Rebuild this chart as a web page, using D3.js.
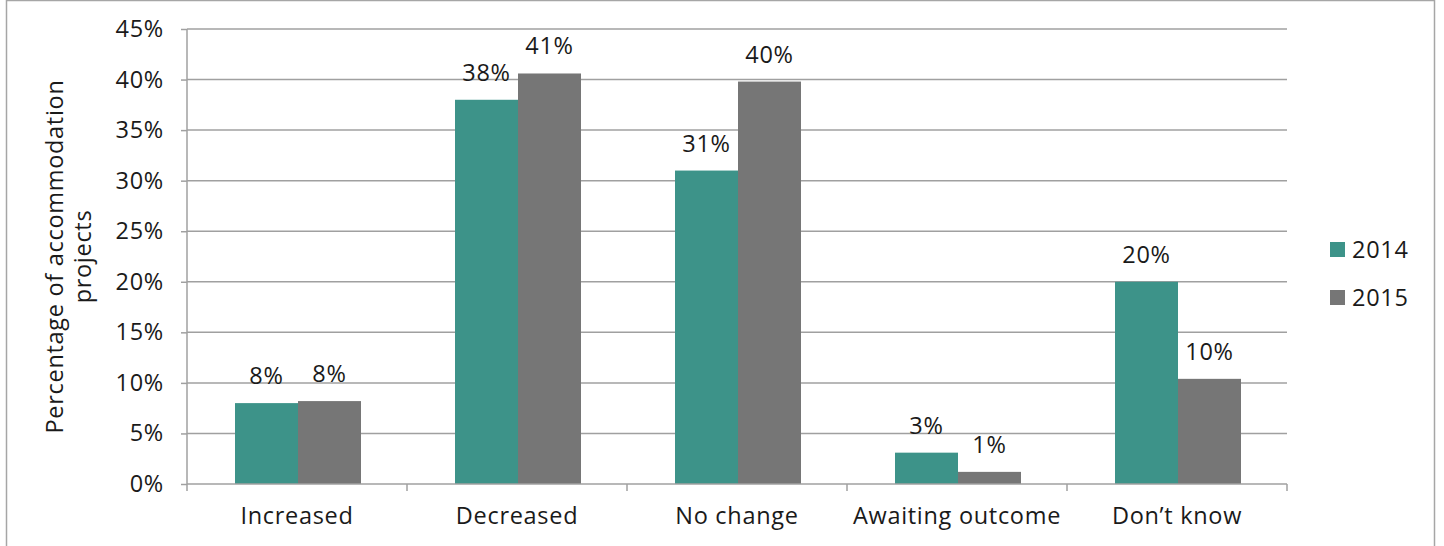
<!DOCTYPE html>
<html>
<head>
<meta charset="utf-8">
<script src="https://cdn.jsdelivr.net/npm/d3@7"></script>
<style>
  html, body { margin: 0; padding: 0; background: #fff; }
  svg { display: block; font-family: "Open Sans", Lato, sans-serif; }
  svg text { letter-spacing: 0.7px; }
</style>
</head>
<body>
<svg id="chart" width="1444" height="546"></svg>
<script>
// Outcome of accommodation projects, by survey year
const categories = ["Increased", "Decreased", "No change", "Awaiting outcome", "Don\u2019t know"];
const series = ["2014", "2015"];
const values2014 = [8.0, 38.0, 31.0, 3.1, 20.0];
const values2015 = [8.2, 40.6, 39.8, 1.2, 10.4];
const yTicks = [0, 5, 10, 15, 20, 25, 30, 35, 40, 45];
const colors = ["#3d9389", "#767676"];

const FONT = "'Open Sans', Lato, sans-serif";
const FS = 23.5;

const svg = d3.select("#chart");
const margin = { left: 187, right: 157, top: 29, bottom: 62 };
const W = 1444, H = 546;
const x0 = margin.left, x1 = W - margin.right;
const y0 = H - margin.bottom, y1 = margin.top;

// outer frame
svg.append("rect")
  .attr("x", 6.5).attr("y", 0.5)
  .attr("width", 1428).attr("height", 560)
  .attr("fill", "none").attr("stroke", "#a6a6a6").attr("stroke-width", 1.5);

const x = d3.scaleBand().domain(categories).range([x0, x1]).paddingInner(0).paddingOuter(0);
const xs = d3.scaleBand().domain(series).range([48, x.bandwidth() - 46]);
const y = d3.scaleLinear().domain([0, 45]).range([y0, y1]);

// gridlines
svg.append("g")
  .selectAll("line").data(yTicks.filter(d => d > 0)).join("line")
  .attr("x1", x0).attr("x2", x1)
  .attr("y1", d => y(d)).attr("y2", d => y(d))
  .attr("stroke", "#a0a0a0").attr("stroke-width", 1.5);

// bars
const groups = svg.append("g").selectAll("g").data(categories).join("g")
  .attr("transform", d => `translate(${x(d)},0)`);

const rows = categories.map((c, i) => [values2014[i], values2015[i]]);

groups.selectAll("rect")
  .data((d, i) => series.map((s, j) => ({ s, v: rows[i][j], j })))
  .join("rect")
  .attr("x", d => xs(d.s))
  .attr("width", xs.bandwidth())
  .attr("y", d => y(d.v))
  .attr("height", d => y(0) - y(d.v))
  .attr("fill", d => colors[d.j]);

groups.selectAll("text")
  .data((d, i) => series.map((s, j) => ({ s, v: rows[i][j], j })))
  .join("text")
  .attr("x", d => xs(d.s) + xs.bandwidth() / 2)
  .attr("y", d => y(d.v) - 19)
  .attr("text-anchor", "middle")
  .attr("font-size", FS)
  .attr("fill", "#1a1a1a")
  .text(d => Math.round(d.v) + "%");

// y axis
const yAxis = svg.append("g")
  .attr("transform", `translate(${x0},0)`)
  .call(d3.axisLeft(y).tickValues(yTicks).tickSize(6).tickPadding(17).tickFormat(d => d + "%"));
yAxis.selectAll("text").attr("font-size", FS).attr("fill", "#1a1a1a").attr("font-family", FONT);
yAxis.selectAll("line").attr("stroke", "#a0a0a0").attr("stroke-width", 1.5);
yAxis.select(".domain").attr("stroke", "#a0a0a0").attr("stroke-width", 1.5).attr("d", `M0,${y0}V${y1}`);

// x axis
const xAxis = svg.append("g")
  .attr("transform", `translate(0,${y0})`)
  .call(d3.axisBottom(x).tickSize(0).tickPadding(23));
xAxis.selectAll("text").attr("font-size", FS).attr("fill", "#1a1a1a").attr("font-family", FONT);
xAxis.select(".domain").attr("stroke", "#a0a0a0").attr("stroke-width", 1.5).attr("d", `M${x0},0H${x1}`);
// band boundary ticks
xAxis.append("g").selectAll("line")
  .data(categories.map(c => x(c)).concat([x1]))
  .join("line")
  .attr("x1", d => d).attr("x2", d => d)
  .attr("y1", 0).attr("y2", 7)
  .attr("stroke", "#a0a0a0").attr("stroke-width", 1.5);

// y axis title
const title = svg.append("text")
  .attr("transform", `translate(70,${(y0 + y1) / 2}) rotate(-90)`)
  .attr("text-anchor", "middle")
  .attr("font-size", FS)
  .attr("fill", "#1a1a1a");
title.append("tspan").attr("x", 0).attr("dy", "-0.3em").text("Percentage of accommodation");
title.append("tspan").attr("x", 0).attr("dy", "1.2em").text("projects");

// legend
const legend = svg.append("g").attr("transform", "translate(1330,242)");
const li = legend.selectAll("g").data(series).join("g")
  .attr("transform", (d, i) => `translate(0,${i * 48})`);
li.append("rect").attr("width", 15).attr("height", 15).attr("fill", (d, i) => colors[i]);
li.append("text").attr("x", 22).attr("y", 7.5).attr("dy", "0.35em")
  .attr("font-size", FS).attr("fill", "#1a1a1a").text(d => d);
</script>
</body>
</html>
